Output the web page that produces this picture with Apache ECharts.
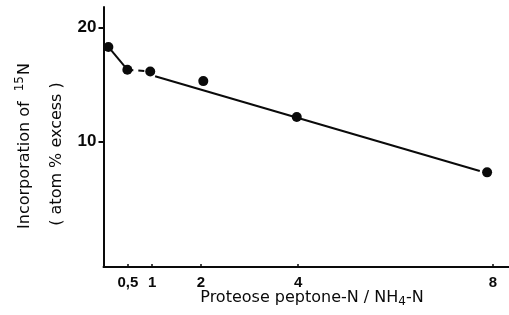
<!DOCTYPE html>
<html>
<head>
<meta charset="utf-8">
<script src="https://cdn.jsdelivr.net/npm/echarts@6/dist/echarts.min.js"></script>
<style>
  html, body { margin: 0; padding: 0; background: #fff; }
  #chart { width: 509px; height: 315px; }
</style>
</head>
<body>
<div id="chart"></div>
<script>
// ratio proteose peptone-N / NH4-N vs 15N incorporation
const ratios = [0.1, 0.49, 0.96, 2.05, 3.97, 7.88];
const incorporation = [18.3, 16.3, 16.15, 15.3, 12.15, 7.3];
// fitted line, drawn from just past the 1:1 point to near 8
const fitX = [1.06, 7.73];
const fitY = [15.73, 7.42];
const xTicks = [0.5, 1, 2, 4, 8];
const yTicks = [10, 20];

const ink = '#0a0a0a';
const pts = ratios.map((x, i) => [x, incorporation[i]]);

const chart = echarts.init(document.getElementById('chart'));

const option = {
  backgroundColor: '#fff',
  animation: false,
  grid: { left: 103.5, right: 0, top: 7, bottom: 48 },
  xAxis: {
    type: 'value',
    min: 0,
    max: 8.33,
    axisLine: { onZero: false, lineStyle: { color: ink, width: 2 } },
    axisTick: { inside: true, length: 3, customValues: xTicks, lineStyle: { color: ink, width: 1.5 } },
    axisLabel: {
      customValues: xTicks,
      margin: 8,
      color: ink,
      fontFamily: 'Liberation Sans',
      fontWeight: 'bold',
      fontSize: 15,
      formatter: v => String(v).replace('.', ',')
    },
    splitLine: { show: false }
  },
  yAxis: {
    type: 'value',
    min: -1,
    max: 21.8,
    axisLine: { onZero: false, lineStyle: { color: ink, width: 2 } },
    axisTick: { length: 5, customValues: yTicks, lineStyle: { color: ink, width: 2 } },
    axisLabel: {
      customValues: yTicks,
      margin: 7,
      color: ink,
      fontFamily: 'Liberation Sans',
      fontWeight: 'bold',
      fontSize: 17
    },
    splitLine: { show: false }
  },
  graphic: [
    {
      type: 'text',
      x: 25, y: 146, rotation: Math.PI / 2,
      style: {
        text: 'Incorporation of {sup|15}N',
        fill: ink,
        font: '16px "DejaVu Sans"',
        align: 'center',
        verticalAlign: 'middle',
        rich: { sup: { fontSize: 12, fontFamily: 'DejaVu Sans', fill: ink, padding: [0, 1, 10, 5] } }
      }
    },
    {
      type: 'text',
      x: 57, y: 154, rotation: Math.PI / 2,
      style: {
        text: '( atom % excess )',
        fill: ink,
        font: '16px "DejaVu Sans"',
        align: 'center',
        verticalAlign: 'middle'
      }
    },
    {
      type: 'text',
      x: 312, y: 298,
      style: {
        text: 'Proteose peptone-N / NH{sub|4}-N',
        fill: ink,
        font: '16px "DejaVu Sans"',
        align: 'center',
        verticalAlign: 'middle',
        rich: { sub: { fontSize: 12, fontFamily: 'DejaVu Sans', fill: ink, padding: [8, 0, 0, 0] } }
      }
    }
  ],
  series: [
    {
      type: 'line',
      data: pts.slice(0, 2),
      showSymbol: false,
      lineStyle: { color: ink, width: 2 }
    },
    {
      type: 'line',
      data: pts.slice(1, 3),
      showSymbol: false,
      lineStyle: { color: ink, width: 2, type: [6, 5] }
    },
    {
      type: 'line',
      data: fitX.map((x, i) => [x, fitY[i]]),
      showSymbol: false,
      lineStyle: { color: ink, width: 2 }
    },
    {
      type: 'scatter',
      data: pts,
      symbolSize: 10,
      itemStyle: { color: ink, opacity: 1 }
    }
  ]
};

chart.setOption(option);
</script>
</body>
</html>
